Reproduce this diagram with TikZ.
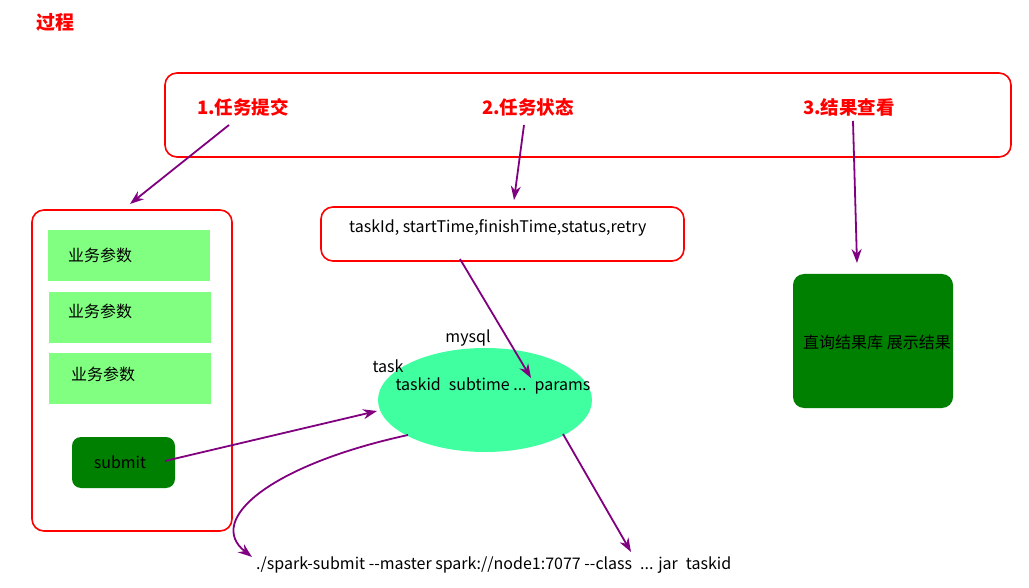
\documentclass[tikz,border=0pt]{standalone}
\usepackage{fontspec}
\setmainfont{Noto Sans CJK SC}
\usetikzlibrary{arrows.meta}
\definecolor{redline}{RGB}{255,0,0}
\definecolor{arrowc}{RGB}{128,0,128}
\definecolor{lightg}{RGB}{128,255,128}
\definecolor{darkg}{RGB}{0,128,0}
\definecolor{ellg}{RGB}{64,255,160}
\tikzset{
  redbox/.style={draw=redline, line width=1.6pt, rounded corners=12pt},
  greenbox/.style={fill=lightg, draw=none},
  darkbox/.style={fill=darkg, draw=none, rounded corners=9pt},
  conn/.style={draw=arrowc, line width=1.8pt, -{Stealth[length=14pt,width=10pt]}},
  hd/.style={text=redline, font=\fontsize{18.5}{21}\selectfont\bfseries},
  txt/.style={font=\fontsize{16}{19}\selectfont, inner sep=0pt},
}
\begin{document}
\begin{tikzpicture}[x=1pt,y=-1pt]
\useasboundingbox (0,0) rectangle (1029,588);
\fill[white] (0,0) rectangle (1029,588);
% title
\node[hd, font=\fontsize{19}{21}\selectfont\bfseries] (title) at (55,22) {过程};
% top frame
\draw[redbox] (165,73) rectangle (1011,157);
\node[hd] (h1) at (243,107) {1.任务提交};
\node[hd] (h2) at (528,107) {2.任务状态};
\node[hd] (h3) at (849,107) {3.结果查看};
% left panel
\draw[redbox] (32,210) rectangle (232,531);
\coordinate (lp) at (130,204);
\fill[greenbox] (48,230) rectangle (210,281);
\fill[greenbox] (49,292) rectangle (211,343);
\fill[greenbox] (49,353) rectangle (211,404);
\node[txt, anchor=west] (p1) at (68,255) {业务参数};
\node[txt, anchor=west] (p2) at (68,311) {业务参数};
\node[txt, anchor=west] (p3) at (71,374) {业务参数};
\node[darkbox, minimum width=103pt, minimum height=51pt] (submit) at (123.5,462.5) {};
\node[txt] (subt) at (120,462) {submit};
% status box
\node[redbox, minimum width=363pt, minimum height=54pt] (status) at (502.5,234) {};
\node[txt, anchor=west] (statt) at (349,228) {taskId, startTime,finishTime,status,retry};
% ellipse
\fill[ellg] (485,400) ellipse [x radius=107, y radius=52];
\coordinate (ell) at (485,400);
\node[txt] (mysql) at (468,338) {mysql};
\node[txt] (task) at (388,366) {task};
\node[txt] (cols) at (493,386) {taskid\enspace subtime ...\enspace params};
% command
\node[txt, anchor=west] (cmd) at (256,565) {./spark-submit {-}{-}master spark://node1:7077 {-}{-}class\enspace ... jar\enspace taskid};
% result box
\node[darkbox, minimum width=160pt, minimum height=134pt, rounded corners=11pt] (res) at (873,341) {};
\node[txt] (rest) at (877,342) {直询结果库 展示结果};
% connectors
\coordinate (a1s) at (229,125);
\draw[conn] (a1s) -- (lp);
\coordinate (a2s) at (524,125);
\coordinate (a2e) at (514,200);
\draw[conn] (a2s) -- (a2e);
\coordinate (a3s) at (853,121);
\coordinate (a3e) at (857,263);
\draw[conn] (a3s) -- (a3e);
\coordinate (sfrom) at (165,461);
\coordinate (eleft) at (377,411);
\draw[conn] (sfrom) -- (eleft);
\coordinate (stfrom) at (460,259);
\coordinate (ein) at (531,378);
\draw[conn] (stfrom) -- (ein);
\coordinate (ebl) at (408,435);
\coordinate (cmdl) at (252,557);
\draw[conn] (ebl) .. controls (270,465) and (205,520) .. (cmdl);
\coordinate (ebr) at (563,434);
\coordinate (cmdr) at (631,552);
\draw[conn] (ebr) -- (cmdr);
\end{tikzpicture}
\end{document}
